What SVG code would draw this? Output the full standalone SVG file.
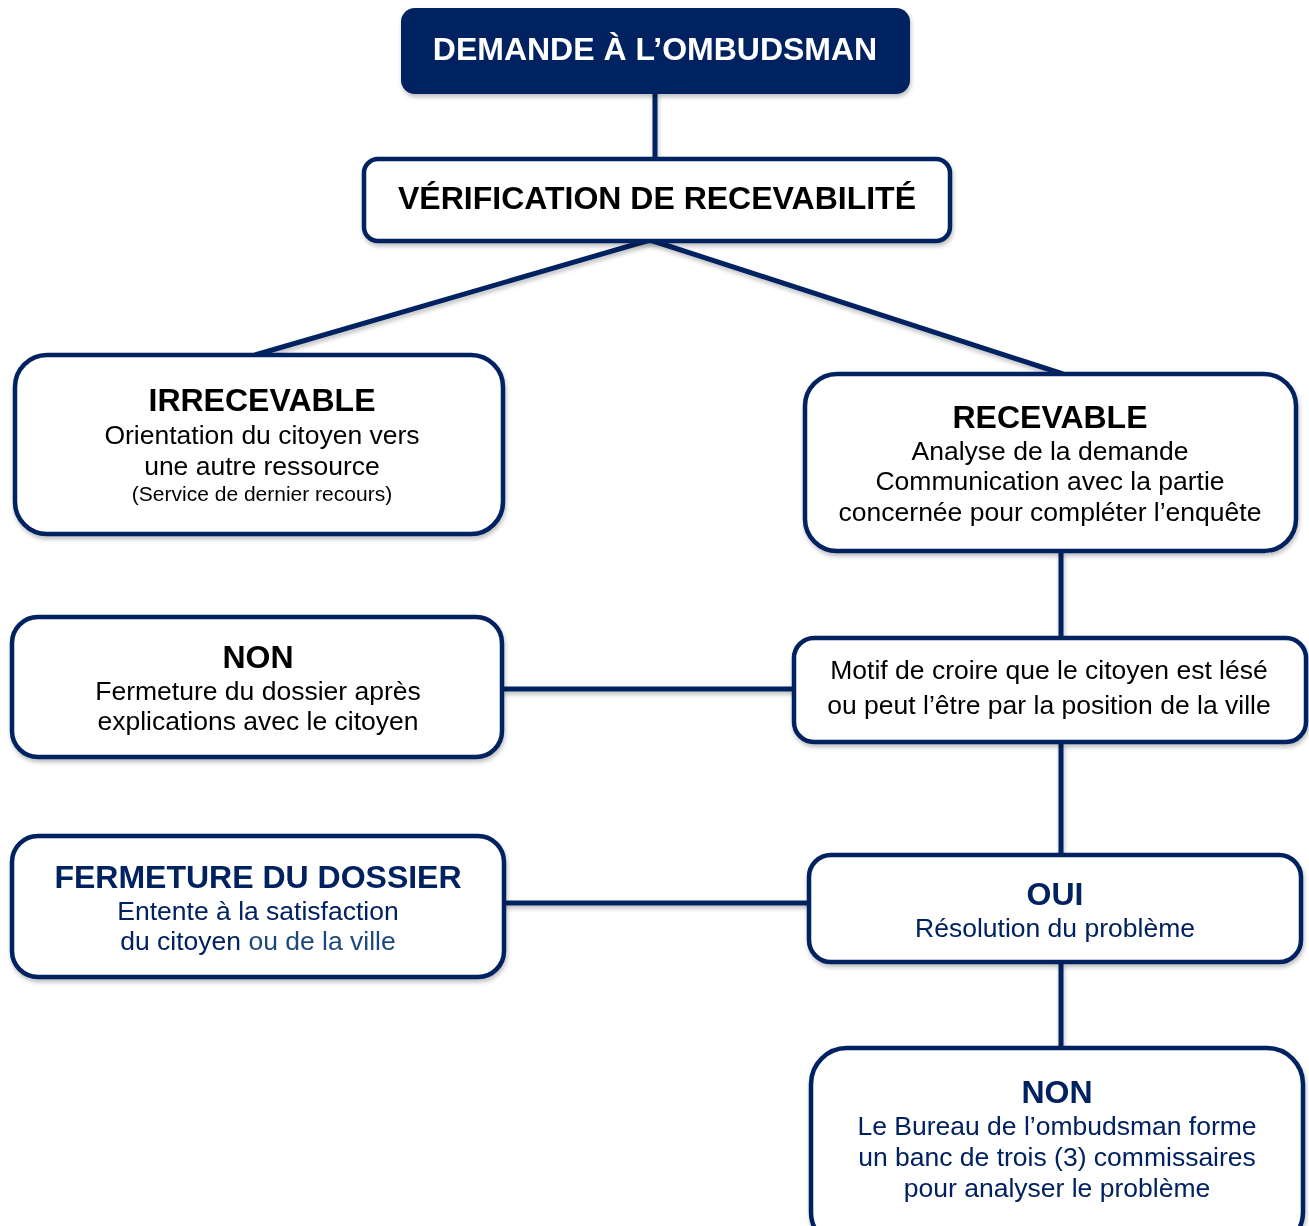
<svg xmlns="http://www.w3.org/2000/svg" width="1309" height="1226" viewBox="0 0 1309 1226">
<defs>
<filter id="sh" x="-5%" y="-5%" width="110%" height="120%">
<feDropShadow dx="1" dy="3" stdDeviation="2" flood-color="#000" flood-opacity="0.25"/>
</filter>
<style>
.box{fill:#fff;stroke:#002060;stroke-width:4.5}
.con{stroke:#002060;stroke-width:5;fill:none;stroke-linecap:butt}
text{font-family:"Liberation Sans",Arial,sans-serif;text-anchor:middle}
.t{font-weight:bold;font-size:32px;fill:#000}
.b{font-size:26.5px;fill:#000}
.s{font-size:21px;fill:#000}
.n{fill:#002060}
.l{fill:#1F497D}
</style>
</defs>
<g id="connectors" filter="url(#sh)">
<line class="con" x1="655" y1="92" x2="655" y2="160"/>
<line class="con" x1="650" y1="240" x2="255" y2="355"/>
<line class="con" x1="650" y1="240" x2="1063" y2="374"/>
<line class="con" x1="1061" y1="551" x2="1061" y2="638"/>
<line class="con" x1="503" y1="689" x2="795" y2="689"/>
<line class="con" x1="1061" y1="742" x2="1061" y2="856"/>
<line class="con" x1="504" y1="903" x2="810" y2="903"/>
<line class="con" x1="1061" y1="963" x2="1061" y2="1049"/>
</g>
<g id="demande" filter="url(#sh)">
<rect x="401" y="8" width="509" height="86" rx="14" fill="#002060"/>
<text class="t" x="655" y="60" style="fill:#fff">DEMANDE À L’OMBUDSMAN</text>
</g>
<g id="verification" filter="url(#sh)">
<rect class="box" x="364" y="159" width="586" height="82" rx="14"/>
<text class="t" x="657" y="209">VÉRIFICATION DE RECEVABILITÉ</text>
</g>
<g id="irrecevable" filter="url(#sh)">
<rect class="box" x="15" y="355" width="488" height="179" rx="32"/>
<text class="t" x="262" y="411">IRRECEVABLE</text>
<text class="b" x="262" y="444">Orientation du citoyen vers</text>
<text class="b" x="262" y="475">une autre ressource</text>
<text class="s" x="262" y="501">(Service de dernier recours)</text>
</g>
<g id="recevable" filter="url(#sh)">
<rect class="box" x="805" y="374" width="491" height="177" rx="32"/>
<text class="t" x="1050" y="428">RECEVABLE</text>
<text class="b" x="1050" y="460">Analyse de la demande</text>
<text class="b" x="1050" y="490">Communication avec la partie</text>
<text class="b" x="1050" y="521">concernée pour compléter l’enquête</text>
</g>
<g id="motif" filter="url(#sh)">
<rect class="box" x="794" y="638" width="512" height="104" rx="20"/>
<text class="b" x="1049" y="679">Motif de croire que le citoyen est lésé</text>
<text class="b" x="1049" y="714">ou peut l’être par la position de la ville</text>
</g>
<g id="non1" filter="url(#sh)">
<rect class="box" x="12" y="617" width="490" height="140" rx="26"/>
<text class="t" x="258" y="668">NON</text>
<text class="b" x="258" y="700">Fermeture du dossier après</text>
<text class="b" x="258" y="730">explications avec le citoyen</text>
</g>
<g id="fermeture" filter="url(#sh)">
<rect class="box" x="12" y="836" width="492" height="141" rx="26"/>
<text class="t n" x="258" y="888">FERMETURE DU DOSSIER</text>
<text class="b n" x="258" y="920">Entente à la satisfaction</text>
<text class="b n" x="258" y="950">du citoyen <tspan class="l">ou de la ville</tspan></text>
</g>
<g id="oui" filter="url(#sh)">
<rect class="box" x="809" y="855" width="492" height="107" rx="22"/>
<text class="t n" x="1055" y="905">OUI</text>
<text class="b n" x="1055" y="937">Résolution du problème</text>
</g>
<g id="non2" filter="url(#sh)">
<rect class="box" x="811" y="1048" width="492" height="200" rx="36"/>
<text class="t n" x="1057" y="1103">NON</text>
<text class="b n" x="1057" y="1135">Le Bureau de l’ombudsman forme</text>
<text class="b n" x="1057" y="1166">un banc de trois (3) commissaires</text>
<text class="b n" x="1057" y="1197">pour analyser le problème</text>
</g>
</svg>
